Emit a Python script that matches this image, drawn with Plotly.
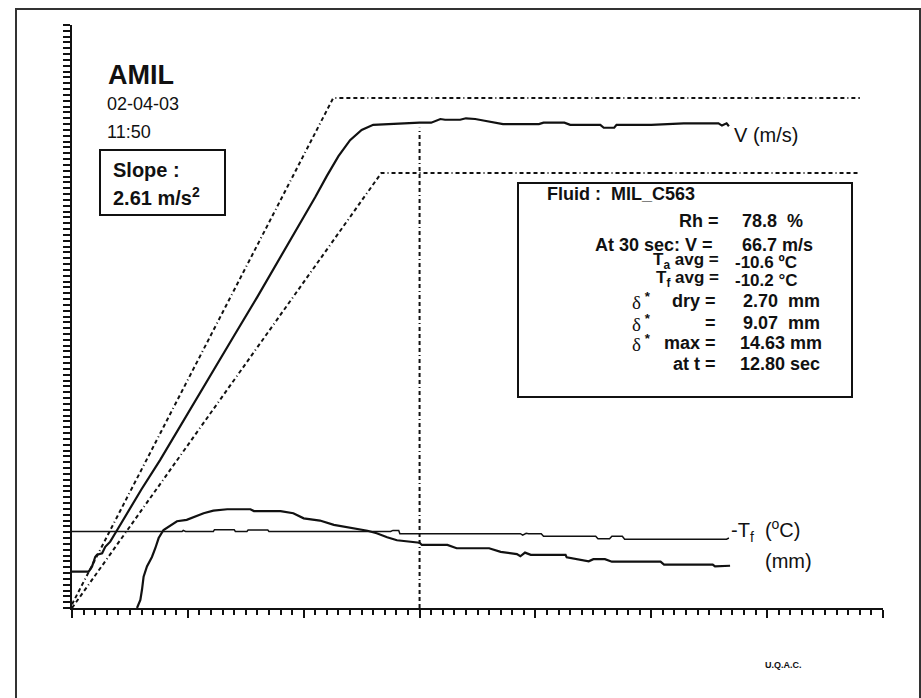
import plotly.graph_objects as go

# ---------------- data ----------------
# Air speed V (m/s)
v_time = [0, 1.43, 1.58, 1.73, 1.87, 2.0, 2.16, 2.6, 2.87, 3.3, 3.9, 5, 6, 7.6, 9, 10.9, 12, 14, 16, 18, 20,
          21, 22, 23, 24, 25, 26, 27, 28, 29, 30, 31, 31.8, 32.2, 33.5, 34.0, 34.8, 35.5, 36.1, 37.2, 38.5,
          40.3, 40.7, 42.5, 43.0, 45.6, 45.9, 46.8, 47.0, 50, 52.8, 55.8, 56.1, 56.5, 56.7]
v_speed = [5.0, 5.0, 5.3, 5.7, 6.35, 7.0, 7.3, 7.5, 8.4, 9.1, 10.7, 13.6, 16.3, 20.3, 24.0, 29.2, 32.0, 37.4,
           42.7, 48.1, 53.5, 56.4, 59.3, 62.0, 64.2, 65.6, 66.3, 66.4, 66.5, 66.6, 66.6, 66.6, 67.1, 67.0,
           67.0, 67.2, 67.1, 66.9, 66.7, 66.4, 66.4, 66.4, 66.6, 66.6, 66.3, 66.3, 65.9, 65.9, 66.3, 66.3,
           66.5, 66.5, 66.2, 66.5, 66.1]

# Acceleration envelope (upper / lower limits, m/s)
env_up_time = [0, 22.55, 68]
env_up_speed = [0.5, 70.0, 70.0]
env_lo_time = [0, 26.7, 68]
env_lo_speed = [0.0, 59.7, 59.7]

# Reference instant
ref_time = [30, 30]
ref_speed = [0, 65.9]

# -Tf (deg C), plotted on the same scale
tf_time = [0, 9.5, 9.6, 9.8, 12.2, 12.3, 14.0, 14.1, 15.1, 15.2, 16.9, 17.0, 27.5, 27.7, 28.2, 28.3,
           38.7, 38.9, 39.2, 39.4, 40.5, 40.7, 45.2, 45.4, 46.4, 46.6, 47.5, 47.7, 56.5, 56.7]
tf_value = [10.5, 10.5, 10.65, 10.5, 10.5, 10.75, 10.75, 10.5, 10.5, 10.7, 10.7, 10.5, 10.5, 10.65, 10.65,
            10.2, 10.2, 10.0, 10.25, 10.2, 10.2, 9.85, 9.85, 9.5, 9.5, 9.85, 9.85, 9.45, 9.45, 9.6]

# Fluid thickness delta* (mm), as drawn on the chart scale
d_time = [5.61, 5.9, 6.04, 6.18, 6.47, 6.9, 7.19, 7.48, 7.9, 8.34, 9.06, 9.9, 11.36, 12.2, 13.4, 15.4, 15.7,
          18.0, 19.1, 20.0, 21.4, 22.6, 24.6, 25.5, 26.3, 27.2, 28.05, 30.0, 30.2, 32.4, 33.2, 36.0, 37.0,
          38.4, 38.7, 39.1, 39.6, 42.6, 42.7, 43.7, 44.6, 45.0, 46.0, 46.6, 47.2, 50.8, 51.1, 55.3, 55.5,
          56.8]
d_value = [0.0, 1.1, 2.5, 4.3, 5.7, 7.0, 8.2, 9.6, 10.7, 11.2, 11.9, 12.1, 13.0, 13.35, 13.55, 13.55, 13.3,
           13.3, 13.0, 12.3, 12.0, 11.4, 10.9, 10.6, 10.25, 9.7, 9.3, 8.96, 8.65, 8.65, 8.2, 8.2, 7.7,
           7.4, 7.1, 7.6, 7.3, 7.3, 6.95, 6.7, 6.4, 6.7, 6.7, 6.35, 6.35, 6.35, 5.95, 5.95, 5.7, 5.8]

# ---------------- figure ----------------
W_IMG, H_IMG = 921, 698
L, T, R, B = 72, 25, 38, 90
PW, PH = W_IMG - L - R, H_IMG - T - B


def px(x):
    return (x - L) / PW


def py(y):
    return (T + PH - y) / PH


INK = "#111111"
FONT = "Liberation Sans, Arial, sans-serif"
DASH = "4px,3px,4px,3px,4px,3px,4px,3px,1px,3px"

fig = go.Figure()
fig.add_trace(go.Scatter(x=env_up_time, y=env_up_speed, mode="lines",
                         line=dict(color=INK, width=2, dash=DASH), hoverinfo="skip"))
fig.add_trace(go.Scatter(x=env_lo_time, y=env_lo_speed, mode="lines",
                         line=dict(color=INK, width=2, dash=DASH), hoverinfo="skip"))
fig.add_trace(go.Scatter(x=ref_time, y=ref_speed, mode="lines",
                         line=dict(color=INK, width=2, dash=DASH), hoverinfo="skip"))
fig.add_trace(go.Scatter(x=v_time, y=v_speed, mode="lines", line=dict(color=INK, width=2.2)))
fig.add_trace(go.Scatter(x=tf_time, y=tf_value, mode="lines", line=dict(color=INK, width=1.5)))
fig.add_trace(go.Scatter(x=d_time, y=d_value, mode="lines", line=dict(color=INK, width=2.2)))

fig.update_xaxes(range=[0, 70], showgrid=False, zeroline=False, showline=True, linecolor=INK,
                 linewidth=2, ticks="outside", tickcolor=INK, tickwidth=2, ticklen=8, dtick=10, tick0=0,
                 showticklabels=False,
                 minor=dict(ticks="outside", dtick=1, tick0=0, ticklen=5, tickwidth=2, tickcolor=INK,
                            showgrid=False))
fig.update_yaxes(range=[0, 80], showgrid=False, zeroline=False, showline=True, linecolor=INK,
                 linewidth=2, ticks="outside", tickcolor=INK, tickwidth=2, ticklen=7, dtick=0.8, tick0=0,
                 showticklabels=False)

shapes = [
    dict(type="rect", xref="paper", yref="paper", x0=px(16), x1=px(920), y0=py(710), y1=py(9),
         line=dict(color="#333333", width=2), layer="below"),
    dict(type="rect", xref="paper", yref="paper", x0=px(100), x1=px(225), y0=py(215), y1=py(150),
         line=dict(color=INK, width=2)),
    dict(type="rect", xref="paper", yref="paper", x0=px(518), x1=px(852), y0=py(397), y1=py(183),
         line=dict(color=INK, width=2), fillcolor="white"),
]

annots = []


def note(text, x, y, size, bold=False, anchor="left"):
    annots.append(dict(text=("<b>%s</b>" % text) if bold else text, x=px(x), y=py(y),
                       xref="paper", yref="paper", xanchor=anchor, yanchor="middle", showarrow=False,
                       font=dict(family=FONT, size=size, color=INK)))


DELTA = ('<span style="font-family:Liberation Serif, Times New Roman, serif;font-weight:normal">δ</span>'
         '<sup> *</sup>')

FS = 18
note("AMIL", 106, 75, 27, bold=True)
note("02-04-03", 105, 104, 18)
note("11:50", 105, 132, 18)
note("Slope :", 111, 170, 20, bold=True)
note("2.61 m/s<sup>2</sup>", 111, 196, 20, bold=True)

note("Fluid :  MIL_C563", 545, 194, FS, bold=True)
note("Rh =", 721, 221, FS, bold=True, anchor="right")
note("78.8  %", 740, 221, FS, bold=True)
note("At 30 sec: V =", 715, 245, FS, bold=True, anchor="right")
note("66.7 m/s", 740, 245, FS, bold=True)
note("T<sub>a</sub> avg =", 721, 261, 17, bold=True, anchor="right")
note("-10.6 ºC", 733, 262, 17, bold=True)
note("T<sub>f</sub> avg =", 721, 279, 17, bold=True, anchor="right")
note("-10.2 °C", 733, 280, 17, bold=True)
note(DELTA, 630, 301, 19, bold=True)
note("dry =", 718, 301, FS, bold=True, anchor="right")
note("2.70  mm", 741, 301, FS, bold=True)
note(DELTA, 630, 323, 19, bold=True)
note("=", 718, 323, FS, bold=True, anchor="right")
note("9.07  mm", 741, 323, FS, bold=True)
note(DELTA, 630, 343, 19, bold=True)
note("max =", 718, 343, FS, bold=True, anchor="right")
note("14.63 mm", 738, 343, FS, bold=True)
note("at t =", 718, 364, FS, bold=True, anchor="right")
note("12.80 sec", 738, 364, FS, bold=True)

note("V (m/s)", 732, 135, 20)
note("-T<sub>f</sub>  (<sup>o</sup>C)", 729, 530, 20)
note("(mm)", 763, 561, 20)
note("U.Q.A.C.", 763, 665, 9, bold=True)

fig.update_layout(width=W_IMG, height=H_IMG, margin=dict(l=L, r=R, t=T, b=B),
                  paper_bgcolor="white", plot_bgcolor="white", showlegend=False,
                  shapes=shapes, annotations=annots, font=dict(family=FONT, color=INK))

fig.write_html("out.html", config={"displayModeBar": False},
               post_script="document.body.style.margin='0';")
